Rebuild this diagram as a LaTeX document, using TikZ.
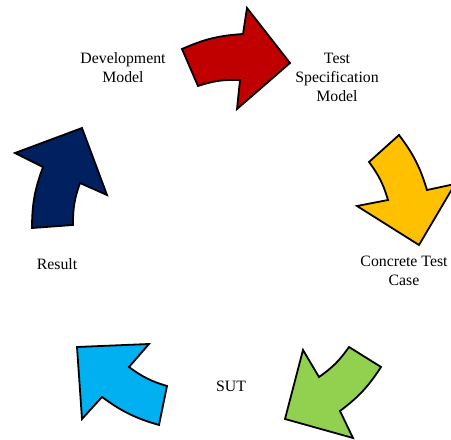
\documentclass[tikz,border=0pt]{standalone}
\usepackage{fontspec}
\setmainfont{Liberation Serif}
\definecolor{cyclered}{HTML}{C00000}
\definecolor{cycleyellow}{HTML}{FFC000}
\definecolor{cyclegreen}{HTML}{92D050}
\definecolor{cycleblue}{HTML}{00B0F0}
\definecolor{cyclenavy}{HTML}{002060}
\begin{document}
\begin{tikzpicture}[x=0.5pt,y=0.5pt,
    cyclearrow/.style={draw=black, line width=0.9pt, line join=miter},
    steplabel/.style={align=center, inner sep=0pt, font=\fontsize{7.9}{9.5}\selectfont}]
        \useasboundingbox (0,0) rectangle (451,440);
        \clip (0,0) rectangle (451,440);

        % stage labels
        \node[steplabel] (devmodel) at (123,372) {Development\\Model};
        \node[steplabel] (testspec) at (337,363) {Test\\Specification\\Model};
        \node[steplabel] (concrete) at (404,169) {Concrete Test\\Case};
        \node[steplabel] (sut) at (231,54) {SUT};
        \node[steplabel] (result) at (57,176) {Result};

        % arrows of the cycle
        \draw[cyclearrow, fill=cyclered] (182,391) to[bend left=10] (243,406) -- (247,432)
          -- (290,377) -- (237,331) -- (240,360) to[bend right=10] (198,354) -- cycle;
        \draw[cyclearrow, fill=cycleyellow] (399,305) to[bend left=10] (427,250) -- (455,256)
          -- (419,195) -- (357,234) -- (388,240) to[bend right=10] (369,278) -- cycle;
        \draw[cyclearrow, fill=cyclegreen] (381,73) to[bend left=10] (340,29) -- (353,2)
          -- (285,21) -- (303,90) -- (319,63) to[bend right=10] (349,93) -- cycle;
        \draw[cyclearrow, fill=cycleblue] (159,15) to[bend left=10] (102,43) -- (82,21)
          -- (77,93) -- (149,96) -- (129,73) to[bend right=10] (167,54) -- cycle;
        \draw[cyclearrow, fill=cyclenavy] (32,212) to[bend left=10] (43,273) -- (15,287)
          -- (82,312) -- (107,245) -- (80,257) to[bend right=10] (73,215) -- cycle;

      \end{tikzpicture}
\end{document}
